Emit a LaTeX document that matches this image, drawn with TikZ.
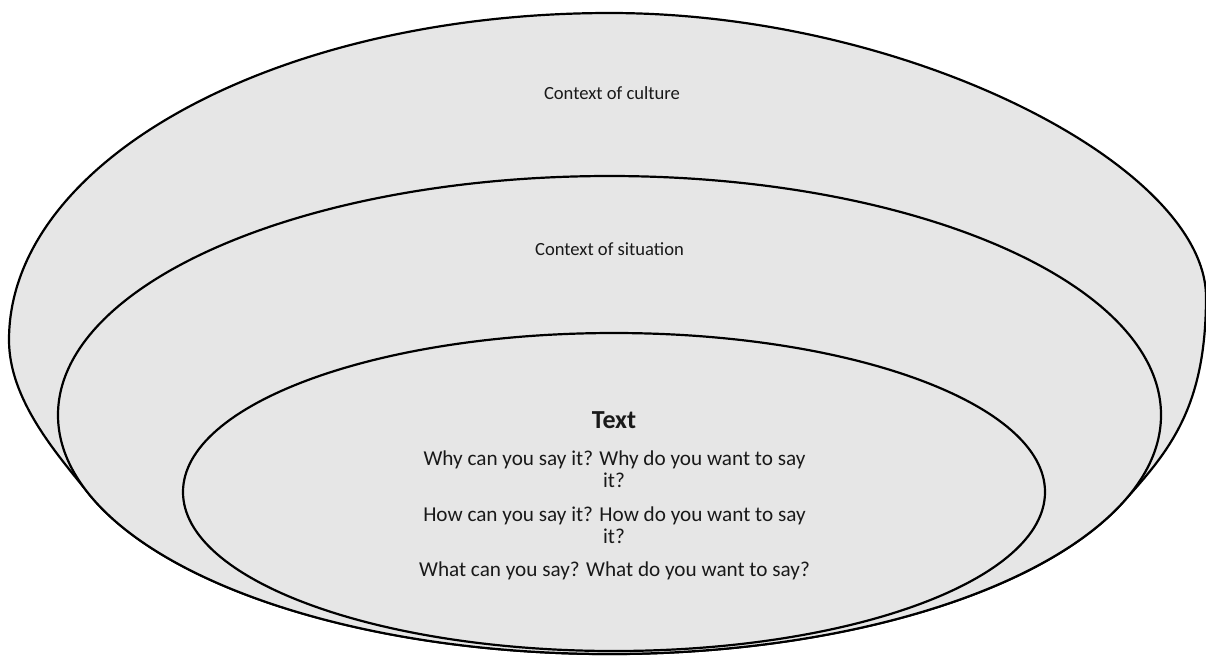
\documentclass[tikz,border=0pt]{standalone}
\usepackage{fontspec}
\setmainfont{Carlito}
\definecolor{shapefill}{HTML}{E6E6E6}
\begin{document}
\begin{tikzpicture}[x=1pt,y=-1pt,
  layer/.style={fill=shapefill, draw=black, line width=2.2pt},
  ctxlabel/.style={font=\fontsize{18.6}{22}\selectfont, anchor=base, inner sep=0pt, text=black!90},
  bodyline/.style={font=\fontsize{21.2}{22}\selectfont, anchor=base, inner sep=0pt, text=black!90},
  titlelabel/.style={font=\fontsize{26}{30}\selectfont\bfseries, anchor=base, inner sep=0pt, text=black!90}]
\useasboundingbox (0,0) rectangle (1206,657);
\clip (0,0) rectangle (1206,657);
% outer: context of culture
\draw[layer] (88.1,492.8) .. controls (57,454) and (9,400) .. (9,340)
  .. controls (9,159.4) and (278.1,13) .. (610,13)
  .. controls (910,13) and (1206,167) .. (1206,297)
  .. controls (1206,407) and (1170,450.3) .. (1123,502.2)
  arc[start angle=21.4, end angle=161, x radius=551.5, y radius=239] -- cycle;
% middle: context of situation
\draw[layer] (609.5,415) ellipse [x radius=551.5, y radius=239];
% inner: text
\draw[layer] (614,492) ellipse [x radius=431, y radius=159];
\node[ctxlabel] (culture) at (612,99.3) {Context of culture};
\node[ctxlabel] (situation) at (609.5,255.7) {Context of situation};
\node[titlelabel] (title) at (614,428) {Text};
\node[bodyline] (why) at (614.5,465) {Why can you say it? Why do you want to say};
\node[bodyline] (whyit) at (614,487) {it?};
\node[bodyline] (how) at (614.5,521) {How can you say it? How do you want to say};
\node[bodyline] (howit) at (614,543) {it?};
\node[bodyline] (what) at (614.5,576) {What can you say? What do you want to say?};
\end{tikzpicture}
\end{document}
